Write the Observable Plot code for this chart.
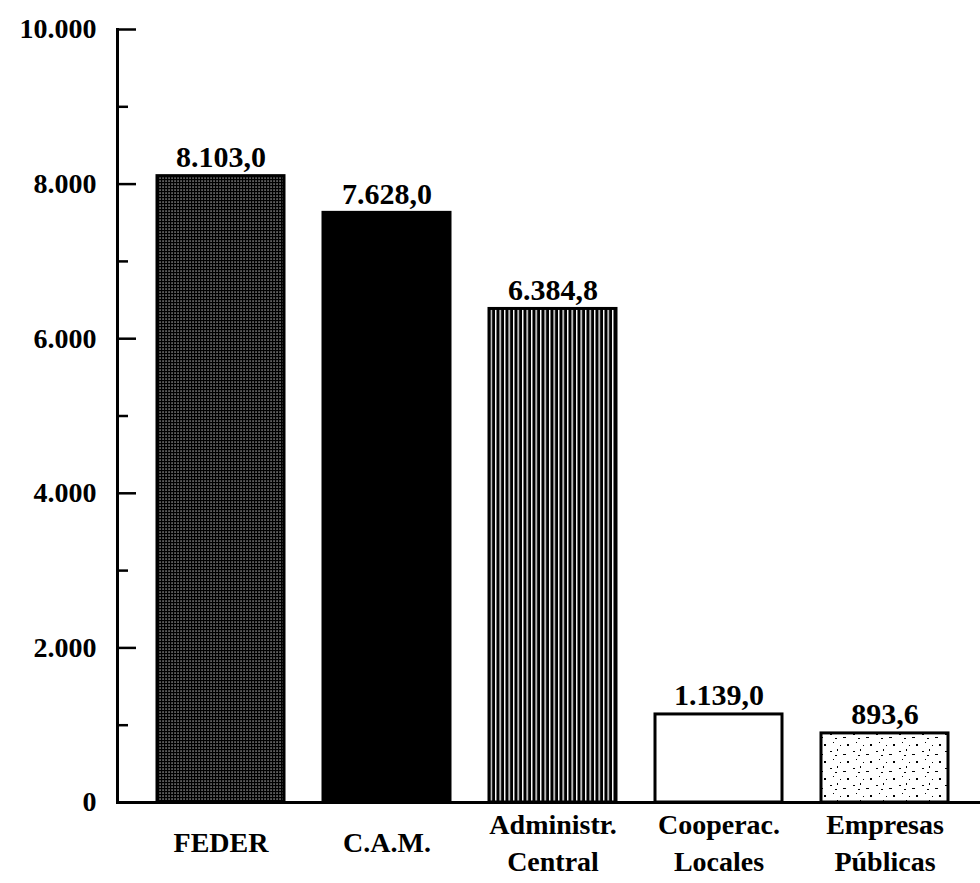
<!DOCTYPE html>
<html><head><meta charset="utf-8">
<script src="https://cdn.jsdelivr.net/npm/d3@7"></script>
<script src="https://cdn.jsdelivr.net/npm/@observablehq/plot@0.6"></script>
<style>body{margin:0;background:#fff} svg{font-family:"Liberation Serif","Times New Roman",serif}</style>
</head><body><div id="chart"></div>
<script>
const categories = ["FEDER", "C.A.M.", "Administr.\nCentral", "Cooperac.\nLocales", "Empresas\nPúblicas"];
const values = [8103.0, 7628.0, 6384.8, 1139.0, 893.6];
const majorTicks = [0, 2000, 4000, 6000, 8000, 10000];
const minorTicks = [1000, 3000, 5000, 7000, 9000];

const data = categories.map((c, i) => ({cat: c, value: values[i]}));
const fills = ["url(#pDots)", "#000", "url(#pStripes)", "#fff", "url(#pSpeck)"];

const loc = d3.formatLocale({decimal: ",", thousands: ".", grouping: [3], currency: ["", ""]});
const fmt0 = loc.format(",.0f");
const fmt1 = loc.format(",.1f");

const chart = Plot.plot({
  width: 980, height: 883,
  marginTop: 29, marginBottom: 81, marginLeft: 117, marginRight: 0,
  x: {domain: categories, paddingInner: 0.234, paddingOuter: 0.201, align: 0.56, label: null},
  y: {domain: [0, 10000], label: null},
  color: {type: "ordinal", domain: categories, range: fills},
  marks: [
    Plot.barY(data, {x: "cat", y: "value", fill: "cat", stroke: "#000", strokeWidth: 3}),
    Plot.text(data, {x: "cat", y: "value", text: d => fmt1(d.value), lineAnchor: "bottom", dy: -9, fontSize: 30, fontWeight: "bold", fill: "#000"}),
    Plot.frame({anchor: "left", strokeWidth: 3}),
    Plot.ruleY([0], {strokeWidth: 3}),
    Plot.axisY(majorTicks, {label: null, tickSize: -19, tickPadding: 40, tickFormat: fmt0, fontSize: 28, fontWeight: "bold", strokeWidth: 2.5, color: "#000"}),
    Plot.axisY(minorTicks, {label: null, tickSize: -11, tickFormat: () => "", strokeWidth: 2.5, color: "#000"}),
    Plot.axisX({label: null, tickSize: 0, tickPadding: 38, lineAnchor: "middle", lineHeight: 1.33, fontSize: 28, fontWeight: "bold", color: "#000"})
  ]
});

const svg = d3.select(chart.tagName === "svg" ? chart : chart.querySelector("svg"));
const defs = svg.insert("defs", ":first-child");
const p1 = defs.append("pattern").attr("id", "pDots").attr("patternUnits", "userSpaceOnUse").attr("width", 3).attr("height", 3);
p1.append("rect").attr("width", 3).attr("height", 3).attr("fill", "#000");
p1.append("rect").attr("x", 0.5).attr("y", 0.5).attr("width", 1.1).attr("height", 1.1).attr("fill", "#fff");
const p2 = defs.append("pattern").attr("id", "pStripes").attr("patternUnits", "userSpaceOnUse").attr("width", 4.5).attr("height", 10);
p2.append("rect").attr("width", 4.5).attr("height", 10).attr("fill", "#000");
p2.append("rect").attr("x", 0).attr("width", 1.4).attr("height", 10).attr("fill", "#fff");
const p3 = defs.append("pattern").attr("id", "pSpeck").attr("patternUnits", "userSpaceOnUse").attr("width", 23).attr("height", 17);
p3.append("rect").attr("width", 23).attr("height", 17).attr("fill", "#fff");
[[2,3,2,1],[9,1,1,2],[15,6,3,1],[5,11,1,1],[19,13,2,2],[12,14,1,1],[7,7,2,1]].forEach(([x,y,w,h]) =>
  p3.append("rect").attr("x", x).attr("y", y).attr("width", w).attr("height", h).attr("fill", "#000"));

document.getElementById("chart").append(chart);
</script>
</body></html>
